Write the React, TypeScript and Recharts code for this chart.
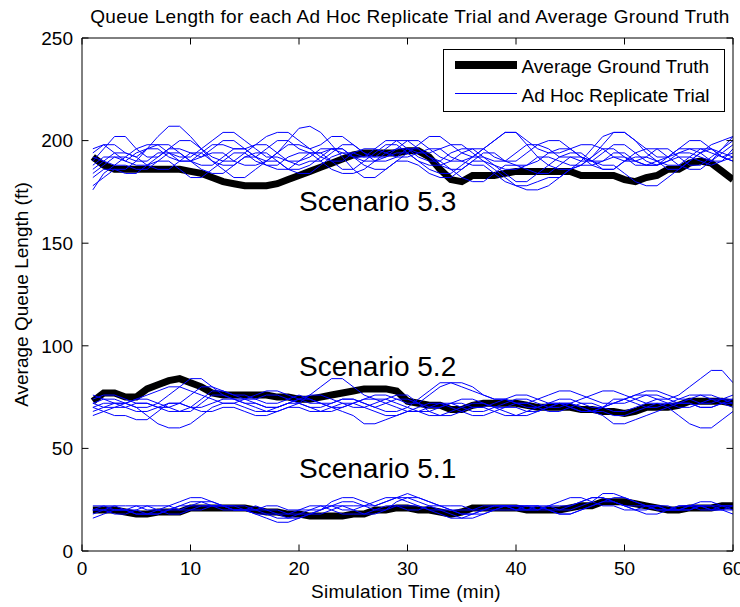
import React from 'react';
import { LineChart, Line, XAxis, YAxis, ReferenceDot } from 'recharts';

const FONT = '"Liberation Sans", Arial, Helvetica, sans-serif';

// time in minutes (1..60)
const TIMES: number[] = Array.from({ length: 60 }, (_, i) => i + 1);
const X_TICKS = [0, 10, 20, 30, 40, 50, 60];
const Y_TICKS = [0, 50, 100, 150, 200, 250];

const SCENARIO_NAMES = ['Scenario 5.1', 'Scenario 5.2', 'Scenario 5.3'];
const SCENARIO_LABEL_T = 20;
const SCENARIO_LABEL_V = [35.5, 85.5, 165.5];

// Average ground truth
const AVG_53 = [
  192, 188, 186, 186, 186, 186, 186, 186, 186, 185,
  184, 182, 180, 179, 178, 178, 178, 179, 181, 183,
  185, 187, 189, 191, 193, 194, 194, 194, 194, 195,
  195, 192, 186, 181, 180, 183, 183, 183, 184, 185,
  185, 185, 185, 185, 185, 183, 183, 183, 183, 181,
  180, 182, 183, 186, 186, 189, 190, 189, 185, 181,
];
const AVG_52 = [
  73, 77, 77, 75, 75, 79, 81, 83, 84, 82,
  80, 77, 76, 76, 76, 76, 76, 75, 75, 74,
  74, 75, 76, 77, 78, 79, 79, 79, 78, 73,
  72, 71, 71, 69, 69, 71, 72, 72, 72, 72,
  71, 70, 70, 70, 70, 69, 69, 68, 68, 67,
  68, 70, 70, 70, 71, 73, 73, 73, 73, 72,
];
const AVG_51 = [
  20, 20, 20, 19, 18, 18, 19, 19, 19, 21,
  21, 21, 21, 21, 21, 20, 19, 19, 18, 18,
  17, 17, 17, 17, 18, 18, 20, 20, 21, 21,
  20, 20, 19, 18, 19, 21, 21, 21, 21, 21,
  20, 20, 20, 20, 21, 22, 22, 24, 24, 24,
  23, 22, 21, 20, 20, 21, 21, 21, 22, 22,
];

// Ad hoc replicate trials, scenario 5.3
const S53_A = [
  190, 196, 202, 202, 196, 192, 192, 196, 200, 200,
  196, 192, 190, 190, 194, 198, 198, 194, 190, 190,
  192, 196, 196, 194, 192, 192, 196, 200, 200, 196,
  192, 190, 190, 194, 196, 196, 192, 190, 190, 194,
  198, 198, 196, 192, 192, 190, 190, 194, 198, 198,
  194, 190, 188, 190, 194, 194, 192, 190, 194, 198,
];
const S53_B = [
  184, 188, 192, 192, 190, 190, 194, 194, 192, 192,
  196, 200, 204, 204, 200, 196, 192, 192, 190, 188,
  190, 190, 194, 198, 198, 194, 190, 190, 192, 196,
  196, 192, 188, 186, 186, 190, 194, 194, 190, 188,
  188, 190, 194, 196, 196, 192, 188, 186, 186, 190,
  192, 192, 190, 188, 188, 192, 196, 196, 192, 190,
];
const S53_C = [
  178, 182, 186, 186, 190, 196, 202, 207, 207, 202,
  196, 190, 188, 188, 192, 194, 194, 190, 186, 186,
  188, 192, 196, 196, 192, 190, 190, 192, 194, 194,
  190, 186, 184, 184, 188, 192, 196, 200, 204, 204,
  198, 192, 188, 186, 186, 188, 192, 196, 196, 192,
  188, 188, 190, 192, 196, 200, 200, 196, 192, 190,
];
const S53_D = [
  176, 184, 188, 188, 186, 186, 190, 194, 194, 190,
  188, 188, 192, 196, 196, 192, 190, 194, 200, 206,
  207, 204, 198, 192, 186, 182, 182, 186, 190, 190,
  188, 184, 182, 182, 186, 190, 190, 188, 186, 186,
  188, 192, 192, 190, 188, 188, 192, 198, 204, 204,
  200, 194, 190, 186, 186, 190, 194, 198, 200, 202,
];
const S53_E = [
  194, 198, 198, 194, 192, 196, 198, 198, 194, 190,
  186, 184, 184, 188, 192, 192, 196, 200, 200, 196,
  194, 194, 196, 196, 192, 188, 186, 186, 190, 194,
  198, 202, 202, 198, 194, 192, 192, 188, 184, 180,
  180, 184, 188, 192, 194, 194, 190, 186, 186, 190,
  194, 196, 196, 192, 188, 186, 186, 190, 196, 202,
];
const S53_F = [
  186, 190, 194, 194, 192, 188, 186, 186, 190, 194,
  194, 190, 186, 182, 182, 186, 190, 190, 186, 184,
  184, 188, 192, 194, 194, 192, 192, 196, 200, 200,
  196, 192, 190, 186, 182, 180, 180, 184, 188, 188,
  186, 184, 184, 188, 192, 192, 190, 188, 188, 184,
  180, 178, 178, 182, 186, 190, 194, 196, 194, 192,
];
const S53_G = [
  188, 192, 192, 190, 194, 196, 196, 192, 190, 190,
  194, 198, 198, 196, 196, 198, 202, 204, 204, 200,
  196, 192, 190, 190, 194, 196, 196, 194, 192, 192,
  194, 196, 196, 192, 190, 188, 188, 184, 180, 178,
  178, 180, 182, 182, 186, 190, 196, 202, 204, 204,
  200, 196, 192, 192, 194, 196, 196, 194, 192, 194,
];
const S53_H = [
  196, 198, 194, 190, 188, 188, 192, 196, 196, 194,
  192, 196, 200, 200, 196, 192, 188, 186, 186, 190,
  194, 194, 190, 186, 186, 190, 194, 198, 198, 194,
  190, 188, 188, 190, 194, 196, 196, 192, 190, 190,
  194, 198, 200, 200, 196, 192, 190, 190, 194, 194,
  190, 188, 188, 192, 196, 196, 194, 190, 190, 196,
];
const S53_I = [
  182, 186, 186, 184, 184, 188, 190, 190, 186, 182,
  182, 186, 190, 194, 194, 190, 188, 188, 192, 194,
  194, 190, 186, 184, 184, 186, 190, 194, 196, 196,
  194, 194, 196, 198, 198, 194, 190, 186, 182, 178,
  176, 176, 178, 182, 186, 188, 188, 190, 192, 192,
  190, 188, 188, 190, 192, 192, 190, 188, 190, 192,
];
const S53_J = [
  192, 190, 188, 192, 196, 198, 198, 194, 190, 190,
  192, 194, 194, 190, 188, 188, 190, 194, 198, 198,
  196, 198, 202, 202, 198, 194, 192, 192, 196, 200,
  200, 196, 192, 190, 190, 192, 196, 200, 204, 204,
  200, 196, 194, 194, 196, 198, 198, 196, 192, 190,
  190, 192, 196, 196, 192, 188, 188, 192, 196, 200,
];

// Ad hoc replicate trials, scenario 5.2
const S52_A = [
  72, 74, 74, 72, 70, 70, 72, 76, 80, 84,
  84, 80, 76, 74, 74, 72, 70, 70, 72, 74,
  74, 72, 70, 70, 72, 74, 76, 76, 74, 72,
  72, 76, 80, 82, 82, 80, 76, 74, 74, 72,
  70, 70, 72, 74, 74, 72, 70, 70, 72, 74,
  76, 76, 74, 72, 72, 74, 76, 76, 74, 74,
];
const S52_B = [
  70, 68, 66, 66, 64, 64, 68, 72, 72, 70,
  70, 72, 74, 74, 72, 70, 68, 68, 70, 72,
  76, 80, 84, 84, 80, 76, 74, 74, 72, 70,
  68, 68, 70, 72, 74, 74, 72, 70, 70, 72,
  72, 70, 68, 68, 70, 72, 72, 70, 68, 68,
  70, 72, 74, 74, 76, 80, 84, 88, 88, 82,
];
const S52_C = [
  76, 74, 72, 72, 70, 66, 62, 60, 60, 62,
  66, 70, 72, 72, 70, 68, 68, 70, 72, 72,
  70, 68, 68, 70, 72, 74, 74, 72, 70, 68,
  68, 70, 72, 72, 70, 68, 68, 70, 72, 74,
  74, 72, 70, 70, 72, 74, 76, 78, 78, 76,
  74, 72, 72, 70, 66, 62, 60, 60, 64, 68,
];
const S52_D = [
  68, 70, 72, 72, 74, 76, 78, 80, 80, 78,
  76, 74, 72, 72, 74, 76, 78, 78, 76, 74,
  72, 72, 70, 68, 66, 62, 62, 64, 66, 68,
  68, 66, 66, 68, 70, 72, 72, 70, 68, 66,
  66, 68, 70, 72, 72, 70, 68, 66, 62, 62,
  64, 66, 68, 70, 72, 72, 70, 70, 72, 72,
];
const S52_E = [
  74, 76, 76, 74, 72, 72, 70, 70, 72, 76,
  80, 80, 78, 76, 76, 74, 72, 72, 74, 76,
  74, 72, 72, 74, 74, 72, 70, 68, 68, 70,
  74, 78, 82, 82, 80, 78, 76, 74, 74, 72,
  72, 74, 76, 78, 78, 76, 74, 72, 72, 74,
  76, 78, 78, 76, 74, 74, 72, 72, 74, 76,
];
const S52_F = [
  70, 72, 72, 70, 68, 68, 70, 72, 72, 70,
  68, 68, 70, 70, 68, 66, 66, 68, 70, 70,
  68, 68, 70, 72, 72, 70, 68, 66, 66, 68,
  70, 72, 72, 70, 68, 66, 66, 68, 70, 70,
  68, 68, 70, 72, 72, 70, 68, 68, 66, 66,
  68, 70, 72, 72, 70, 70, 72, 74, 74, 72,
];
const S52_G = [
  72, 70, 70, 72, 74, 74, 72, 70, 68, 68,
  72, 76, 76, 74, 72, 72, 70, 70, 72, 74,
  76, 76, 74, 72, 70, 70, 72, 74, 76, 76,
  72, 70, 70, 72, 72, 70, 70, 72, 74, 76,
  76, 74, 72, 72, 70, 68, 68, 70, 72, 72,
  74, 76, 76, 74, 72, 72, 70, 70, 72, 74,
];
const S52_H = [
  66, 68, 70, 70, 72, 72, 70, 68, 68, 70,
  74, 78, 78, 76, 74, 74, 76, 76, 74, 72,
  70, 70, 72, 74, 74, 72, 70, 72, 74, 74,
  72, 68, 66, 66, 68, 70, 70, 68, 66, 66,
  68, 70, 72, 72, 70, 68, 68, 70, 74, 74,
  72, 70, 70, 72, 74, 76, 76, 74, 72, 70,
];

// Ad hoc replicate trials, scenario 5.1
const S51_A = [
  20, 22, 22, 20, 18, 18, 20, 22, 24, 26,
  26, 24, 22, 22, 20, 18, 18, 16, 16, 18,
  20, 22, 22, 20, 20, 22, 24, 26, 26, 24,
  22, 20, 20, 18, 16, 16, 18, 20, 22, 22,
  20, 20, 22, 24, 26, 26, 24, 22, 22, 20,
  20, 22, 22, 20, 20, 22, 24, 24, 22, 20,
];
const S51_B = [
  18, 20, 20, 20, 22, 22, 20, 18, 18, 20,
  22, 22, 22, 20, 20, 22, 20, 18, 16, 16,
  18, 20, 22, 24, 24, 22, 22, 24, 26, 26,
  24, 22, 20, 20, 18, 18, 20, 22, 22, 20,
  20, 22, 22, 20, 22, 24, 26, 26, 24, 22,
  20, 20, 22, 22, 20, 20, 22, 22, 20, 18,
];
const S51_C = [
  22, 22, 20, 20, 18, 18, 18, 20, 22, 24,
  24, 22, 22, 20, 20, 18, 16, 14, 14, 16,
  18, 20, 22, 22, 20, 18, 18, 20, 22, 22,
  22, 20, 18, 16, 16, 18, 20, 22, 22, 22,
  22, 20, 20, 18, 18, 20, 22, 24, 24, 22,
  20, 18, 18, 20, 22, 22, 22, 20, 20, 22,
];
const S51_D = [
  20, 20, 22, 22, 22, 20, 20, 20, 22, 22,
  22, 22, 20, 20, 20, 20, 22, 22, 20, 20,
  20, 20, 24, 26, 26, 24, 22, 24, 26, 28,
  26, 24, 22, 22, 22, 20, 20, 20, 22, 22,
  22, 22, 20, 20, 20, 22, 24, 28, 28, 26,
  24, 22, 22, 20, 20, 20, 22, 22, 22, 22,
];
const S51_E = [
  16, 18, 20, 20, 20, 18, 18, 20, 20, 22,
  24, 24, 22, 20, 20, 20, 18, 18, 18, 20,
  22, 22, 20, 18, 18, 18, 20, 22, 22, 20,
  20, 22, 22, 20, 18, 18, 18, 20, 20, 20,
  22, 22, 20, 18, 18, 20, 22, 24, 26, 26,
  24, 22, 20, 20, 22, 22, 20, 20, 22, 22,
];
const S51_F = [
  20, 20, 18, 18, 20, 22, 22, 22, 20, 20,
  20, 22, 22, 22, 22, 20, 20, 20, 18, 18,
  18, 18, 20, 22, 22, 22, 20, 20, 24, 26,
  26, 24, 22, 20, 20, 20, 22, 22, 22, 20,
  20, 20, 22, 22, 22, 24, 26, 26, 24, 22,
  22, 22, 20, 20, 20, 22, 22, 20, 20, 20,
];

const AVERAGES: { key: string; values: number[] }[] = [
  { key: 'avg53', values: AVG_53 },
  { key: 'avg52', values: AVG_52 },
  { key: 'avg51', values: AVG_51 },
];
const TRIALS: { key: string; values: number[] }[] = [
  { key: 's53a', values: S53_A }, { key: 's53b', values: S53_B }, { key: 's53c', values: S53_C },
  { key: 's53d', values: S53_D }, { key: 's53e', values: S53_E }, { key: 's53f', values: S53_F },
  { key: 's53g', values: S53_G }, { key: 's53h', values: S53_H }, { key: 's53i', values: S53_I },
  { key: 's53j', values: S53_J },
  { key: 's52a', values: S52_A }, { key: 's52b', values: S52_B }, { key: 's52c', values: S52_C },
  { key: 's52d', values: S52_D }, { key: 's52e', values: S52_E }, { key: 's52f', values: S52_F },
  { key: 's52g', values: S52_G }, { key: 's52h', values: S52_H },
  { key: 's51a', values: S51_A }, { key: 's51b', values: S51_B }, { key: 's51c', values: S51_C },
  { key: 's51d', values: S51_D }, { key: 's51e', values: S51_E }, { key: 's51f', values: S51_F },
];

const TICK_LEN = 6.5;
const AXIS_FONT = 19;

const BottomTick = (p: any) => (
  <g>
    <line x1={p.x} y1={p.y} x2={p.x} y2={p.y - TICK_LEN} stroke="#000" strokeWidth={1} />
    <text x={p.x} y={p.y + 23.5} textAnchor="middle" fontSize={AXIS_FONT} fontFamily={FONT} fill="#000">
      {p.payload.value}
    </text>
  </g>
);
const TopTick = (p: any) => (
  <line x1={p.x} y1={p.y} x2={p.x} y2={p.y + TICK_LEN} stroke="#000" strokeWidth={1} />
);
const LeftTick = (p: any) => (
  <g>
    <line x1={p.x} y1={p.y} x2={p.x + TICK_LEN} y2={p.y} stroke="#000" strokeWidth={1} />
    <text x={p.x - 9} y={p.y + 6.8} textAnchor="end" fontSize={AXIS_FONT} fontFamily={FONT} fill="#000">
      {p.payload.value}
    </text>
  </g>
);
const RightTick = (p: any) => (
  <line x1={p.x} y1={p.y} x2={p.x - TICK_LEN} y2={p.y} stroke="#000" strokeWidth={1} />
);

export default function App() {
  const data = TIMES.map((t, i) => {
    const row: Record<string, number> = { t };
    AVERAGES.forEach((s) => (row[s.key] = s.values[i]));
    TRIALS.forEach((s) => (row[s.key] = s.values[i]));
    return row;
  });

  return (
    <div style={{ position: 'absolute', left: 0, top: 0, width: 740, height: 607, background: '#fff' }}>
      <LineChart width={740} height={607} data={data} margin={{ top: 8, right: 2, bottom: 26, left: 0 }}>
        <XAxis
          dataKey="t" type="number" domain={[0, 60]} ticks={X_TICKS} interval={0}
          height={30} tickSize={0} tickMargin={0} allowDataOverflow
          axisLine={{ stroke: '#000', strokeWidth: 1 }} tickLine={false} tick={(p: any) => <BottomTick {...p} />}
        />
        <XAxis
          xAxisId="top" orientation="top" dataKey="t" type="number" domain={[0, 60]} ticks={X_TICKS} interval={0}
          height={30} tickSize={0} tickMargin={0} allowDataOverflow
          axisLine={{ stroke: '#000', strokeWidth: 1 }} tickLine={false} tick={(p: any) => <TopTick {...p} />}
        />
        <YAxis
          type="number" domain={[0, 250]} ticks={Y_TICKS} interval={0} width={82}
          tickSize={0} tickMargin={0} allowDataOverflow
          axisLine={{ stroke: '#000', strokeWidth: 1 }} tickLine={false} tick={(p: any) => <LeftTick {...p} />}
        />
        <YAxis
          yAxisId="right" orientation="right" type="number" domain={[0, 250]} ticks={Y_TICKS} interval={0} width={5}
          tickSize={0} tickMargin={0} allowDataOverflow
          axisLine={{ stroke: '#000', strokeWidth: 1 }} tickLine={false} tick={(p: any) => <RightTick {...p} />}
        />
        {AVERAGES.map((s) => (
          <Line
            key={s.key} dataKey={s.key} type="linear" stroke="#000000" strokeWidth={7}
            dot={false} activeDot={false} isAnimationActive={false} strokeLinejoin="miter"
          />
        ))}
        {TRIALS.map((s) => (
          <Line
            key={s.key} dataKey={s.key} type="linear" stroke="#0000ff" strokeWidth={1}
            dot={false} activeDot={false} isAnimationActive={false}
          />
        ))}
        {SCENARIO_NAMES.map((name, i) => (
          <ReferenceDot
            key={name} x={SCENARIO_LABEL_T} y={SCENARIO_LABEL_V[i]} r={0}
            shape={(p: any) => (
              <text x={p.cx} y={p.cy} fontSize={28} fontFamily={FONT} fill="#000">
                {name}
              </text>
            )}
          />
        ))}
      </LineChart>
      <svg
        width={740} height={607}
        style={{ position: 'absolute', left: 0, top: 0, pointerEvents: 'none' }}
        fontFamily={FONT}
      >
        <text x={410} y={22.7} textAnchor="middle" fontSize={19} letterSpacing={0.35} fill="#000">
          Queue Length for each Ad Hoc Replicate Trial and Average Ground Truth
        </text>
        <text x={406} y={598} textAnchor="middle" fontSize={19} letterSpacing={0.3} fill="#000">
          Simulation Time (min)
        </text>
        <text transform="rotate(-90)" x={-294.5} y={28} textAnchor="middle" fontSize={19} fill="#000">
          Average Queue Length (ft)
        </text>
        <rect x={443.5} y={49.5} width={281} height={62} fill="#fff" stroke="#000" strokeWidth={1} />
        <line x1={455} y1={65} x2={517} y2={65} stroke="#000" strokeWidth={8} />
        <text x={521.5} y={73.3} fontSize={19} fill="#000">Average Ground Truth</text>
        <line x1={455} y1={93.5} x2={517} y2={93.5} stroke="#0000ff" strokeWidth={1} />
        <text x={521.5} y={102.3} fontSize={19} fill="#000">Ad Hoc Replicate Trial</text>
      </svg>
    </div>
  );
}
